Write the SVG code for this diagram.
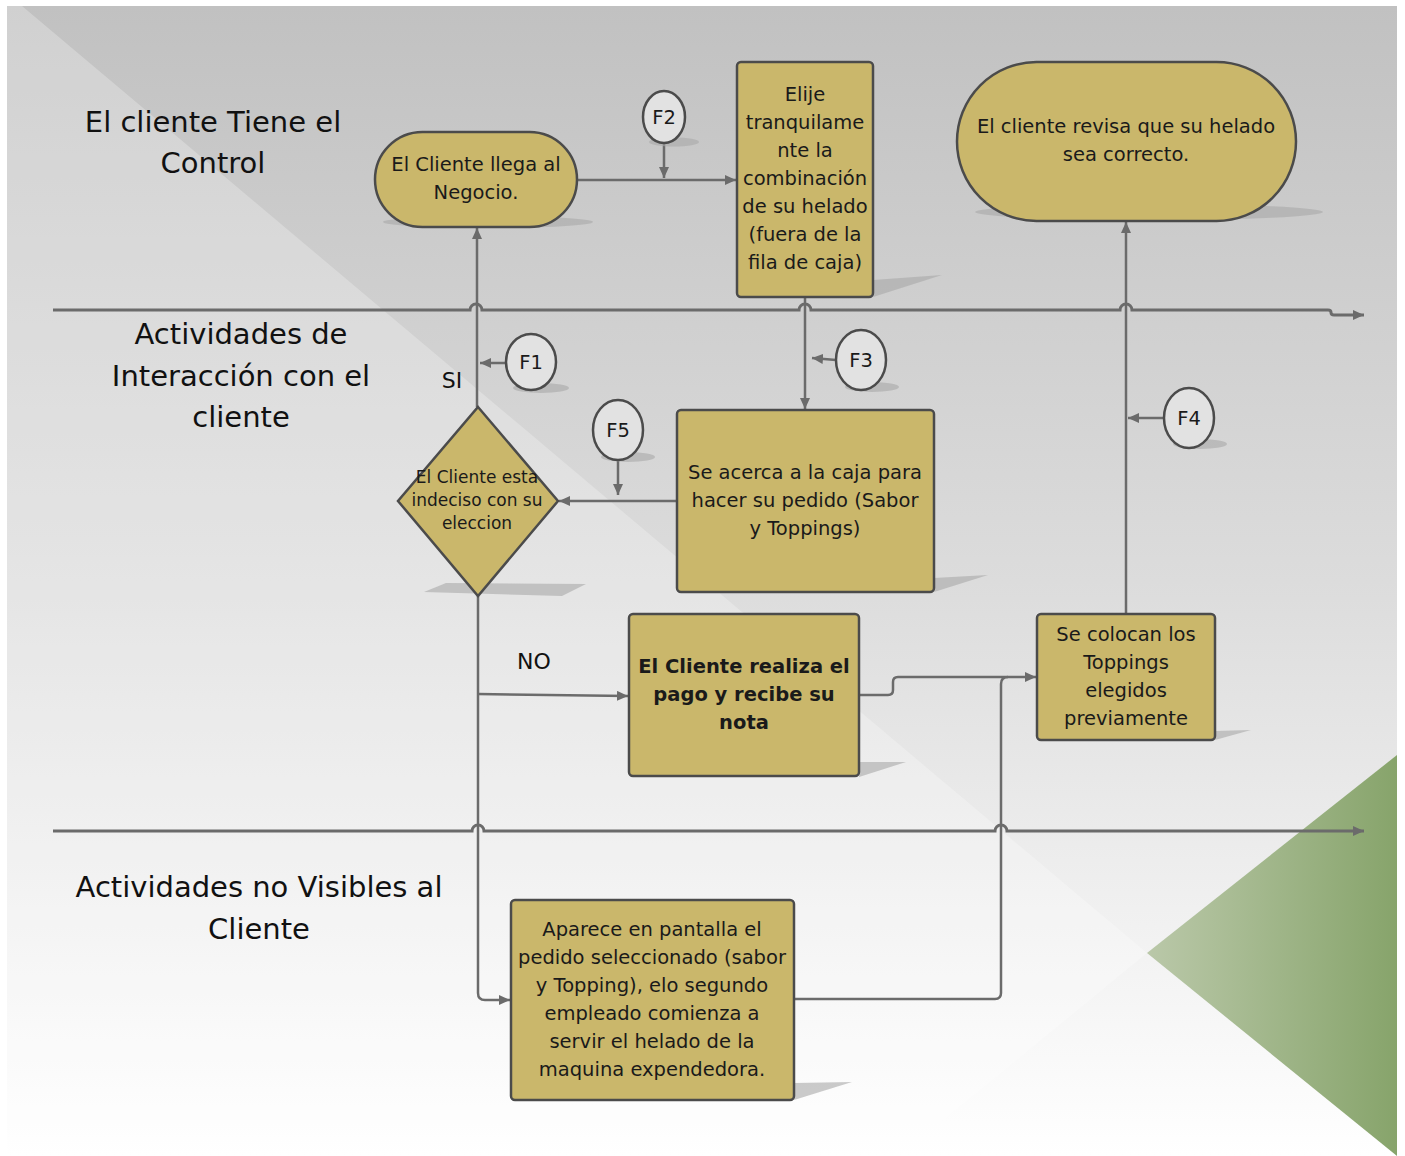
<svg xmlns="http://www.w3.org/2000/svg" width="1405" height="1156" viewBox="0 0 1405 1156">
<defs>
<linearGradient id="bg" x1="0" y1="0" x2="0" y2="1">
<stop offset="0" stop-color="#c1c1c1"/>
<stop offset="0.5" stop-color="#dcdcdc"/>
<stop offset="1" stop-color="#ffffff"/>
</linearGradient>
<linearGradient id="green" x1="0" y1="0" x2="1" y2="0">
<stop offset="0" stop-color="#bac8a9"/>
<stop offset="1" stop-color="#87a46b"/>
</linearGradient>
<marker id="ah" markerUnits="userSpaceOnUse" markerWidth="12" markerHeight="10" refX="11" refY="5" orient="auto">
<path d="M0,0 L11,5 L0,10 z" fill="#6b6b6b"/>
</marker>
<style>
.node{fill:#cab76b;stroke:#4b4b4b;stroke-width:2.5}
.fc{fill:#e2e2e2;stroke:#4b4b4b;stroke-width:2.5}
.sh{fill:#a8a8a8;opacity:0.6}
.t{font-family:"DejaVu Sans",Verdana,sans-serif;font-size:19.5px;fill:#1a1a1a;text-anchor:middle}
.b{font-weight:bold}
.lane{font-family:"DejaVu Sans",Verdana,sans-serif;font-size:29px;fill:#111;text-anchor:middle}
.lbl{font-family:"DejaVu Sans",Verdana,sans-serif;font-size:22px;fill:#111;text-anchor:middle}
.c{fill:none;stroke:#6b6b6b;stroke-width:2.5}
.ln{fill:none;stroke:#6b6b6b;stroke-width:3}
</style>
</defs>
<rect x="0" y="0" width="1405" height="1156" fill="#ffffff"/>
<rect x="7" y="6" width="1390" height="1150" fill="url(#bg)"/>
<polygon points="7,6 22,6 1147,953 900,1156 7,1156" fill="#ffffff" opacity="0.25"/>
<polygon points="1147,953 1397,755 1397,1156" fill="url(#green)"/>

<g id="lanes">
<text class="lane" x="213" y="132">El cliente Tiene el</text>
<text class="lane" x="213" y="173">Control</text>
<text class="lane" x="241" y="344">Actividades de</text>
<text class="lane" x="241" y="386">Interacción con el</text>
<text class="lane" x="241" y="427">cliente</text>
<text class="lane" x="259" y="897">Actividades no Visibles al</text>
<text class="lane" x="259" y="939">Cliente</text>
</g>

<g id="connectors">
<path class="ln" marker-end="url(#ah)" d="M53,310 L470,310 A6,6 0 0 1 482,310 L799,310 A6,6 0 0 1 811,310 L1120,310 A6,6 0 0 1 1132,310 L1328,310 Q1331,310 1331,312.5 Q1331,315 1334,315 L1364,315"/>
<path class="ln" marker-end="url(#ah)" d="M53,831 L472,831 A6,6 0 0 1 484,831 L995,831 A6,6 0 0 1 1007,831 L1364,831"/>
<path class="c" marker-end="url(#ah)" d="M577,180 L736,180"/>
<path class="c" marker-end="url(#ah)" d="M805,297 L805,409"/>
<path class="c" marker-end="url(#ah)" d="M677,501 L559,501"/>
<path class="c" marker-end="url(#ah)" d="M477,407 L477,228"/>
<path class="c" marker-end="url(#ah)" d="M478,596 L478,993 Q478,1000 485,1000 L510,1000"/>
<path class="c" marker-end="url(#ah)" d="M478,694 L628,696"/>
<path class="c" marker-end="url(#ah)" d="M859,695 L888,695 Q893,695 893,690 L893,682 Q893,677 898,677 L1036,677"/>
<path class="c" d="M794,999 L995,999 Q1001,999 1001,993 L1001,684 Q1001,677 1008,677"/>
<path class="c" marker-end="url(#ah)" d="M1126,614 L1126,222"/>
<path class="c" marker-end="url(#ah)" d="M664,143 L664,178"/>
<path class="c" marker-end="url(#ah)" d="M506,363 L480,363"/>
<path class="c" marker-end="url(#ah)" d="M836,360 L812,358"/>
<path class="c" marker-end="url(#ah)" d="M618,461 L618,495"/>
<path class="c" marker-end="url(#ah)" d="M1164,418 L1128,418"/>
<text class="lbl" x="452" y="388">SI</text>
<text class="lbl" x="534" y="669">NO</text>
</g>

<g id="n1">
<ellipse class="sh" cx="488" cy="222" rx="105" ry="6"/>
<rect class="node" x="375" y="132" width="202" height="95" rx="47.5"/>
<text class="t" x="476" y="171">El Cliente llega al</text>
<text class="t" x="476" y="199">Negocio.</text>
</g>

<g id="n2">
<polygon class="sh" points="873,280 942,275 873,297"/>
<rect class="node" x="737" y="62" width="136" height="235" rx="4"/>
<text class="t" x="805" y="101">Elije</text>
<text class="t" x="805" y="129">tranquilame</text>
<text class="t" x="805" y="157">nte la</text>
<text class="t" x="805" y="185">combinación</text>
<text class="t" x="805" y="213">de su helado</text>
<text class="t" x="805" y="241">(fuera de la</text>
<text class="t" x="805" y="269">fila de caja)</text>
</g>

<g id="n3">
<ellipse class="sh" cx="1149" cy="212" rx="174" ry="8"/>
<rect class="node" x="957" y="62" width="339" height="159" rx="79.5"/>
<text class="t" x="1126" y="133">El cliente revisa que su helado</text>
<text class="t" x="1126" y="161">sea correcto.</text>
</g>

<g id="n4">
<polygon class="sh" points="424,592 446,583 586,584 562,596"/>
<polygon class="node" points="478,407 558,501 478,596 398,501"/>
<text class="t" x="477" y="483" style="font-size:17px">El Cliente esta</text>
<text class="t" x="477" y="506" style="font-size:17px">indeciso con su</text>
<text class="t" x="477" y="529" style="font-size:17px">eleccion</text>
</g>

<g id="n5">
<polygon class="sh" points="934,578 988,575 934,592"/>
<rect class="node" x="677" y="410" width="257" height="182" rx="4"/>
<text class="t" x="805" y="479">Se acerca a la caja para</text>
<text class="t" x="805" y="507">hacer su pedido (Sabor</text>
<text class="t" x="805" y="535">y Toppings)</text>
</g>

<g id="n6">
<polygon class="sh" points="859,762 906,762 859,777"/>
<rect class="node" x="629" y="614" width="230" height="162" rx="4"/>
<text class="t b" x="744" y="673">El Cliente realiza el</text>
<text class="t b" x="744" y="701">pago y recibe su</text>
<text class="t b" x="744" y="729">nota</text>
</g>

<g id="n7">
<polygon class="sh" points="1215,731 1251,730 1215,740"/>
<rect class="node" x="1037" y="614" width="178" height="126" rx="4"/>
<text class="t" x="1126" y="641">Se colocan los</text>
<text class="t" x="1126" y="669">Toppings</text>
<text class="t" x="1126" y="697">elegidos</text>
<text class="t" x="1126" y="725">previamente</text>
</g>

<g id="n8">
<polygon class="sh" points="794,1083 852,1082 794,1100"/>
<rect class="node" x="511" y="900" width="283" height="200" rx="4"/>
<text class="t" x="652" y="936">Aparece en pantalla el</text>
<text class="t" x="652" y="964">pedido seleccionado (sabor</text>
<text class="t" x="652" y="992">y Topping), elo segundo</text>
<text class="t" x="652" y="1020">empleado comienza a</text>
<text class="t" x="652" y="1048">servir el helado de la</text>
<text class="t" x="652" y="1076">maquina expendedora.</text>
</g>

<g id="f1">
<ellipse class="sh" cx="541" cy="388" rx="28" ry="5"/>
<ellipse class="fc" cx="531" cy="362" rx="25" ry="28"/>
<text class="t" x="531" y="369">F1</text>
</g>
<g id="f2">
<ellipse class="sh" cx="674" cy="142" rx="25" ry="4.5"/>
<ellipse class="fc" cx="664" cy="117" rx="21" ry="26"/>
<text class="t" x="664" y="124">F2</text>
</g>
<g id="f3">
<ellipse class="sh" cx="872" cy="387" rx="27" ry="5"/>
<ellipse class="fc" cx="861" cy="360" rx="25" ry="30"/>
<text class="t" x="861" y="367">F3</text>
</g>
<g id="f4">
<ellipse class="sh" cx="1200" cy="444" rx="27" ry="5"/>
<ellipse class="fc" cx="1189" cy="418" rx="25" ry="30"/>
<text class="t" x="1189" y="425">F4</text>
</g>
<g id="f5">
<ellipse class="sh" cx="628" cy="457" rx="27" ry="5"/>
<ellipse class="fc" cx="618" cy="430" rx="25" ry="30"/>
<text class="t" x="618" y="437">F5</text>
</g>
</svg>
